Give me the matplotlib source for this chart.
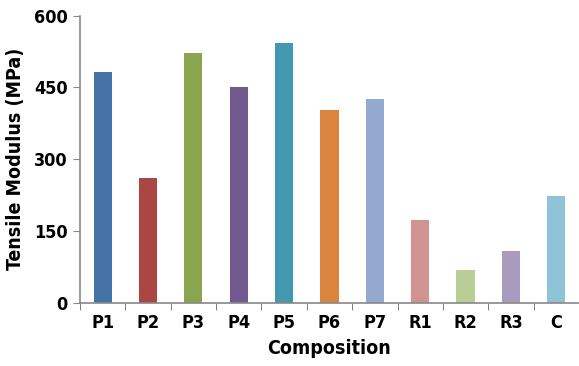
import matplotlib
matplotlib.use("Agg")
import matplotlib.pyplot as plt
from matplotlib.ticker import FixedLocator

categories = ["P1", "P2", "P3", "P4", "P5", "P6", "P7", "R1", "R2", "R3", "C"]
modulus = [482, 261, 522, 452, 543, 402, 426, 172, 69, 109, 223]
colors = ["#4572a7", "#aa4643", "#89a54e", "#71588f", "#4198af", "#db843d",
          "#93a9cf", "#d19392", "#b9cd96", "#a99bbd", "#8fc3d8"]
y_ticks = [0, 150, 300, 450, 600]

plt.rcParams['font.family'] = ['DejaVu Sans']
plt.rcParams['font.stretch'] = 'condensed'

fig = plt.figure(figsize=(5.79, 3.66), dpi=100)
ax = fig.add_axes([0.138, 0.173, 0.862, 0.784])

x = range(len(categories))
ax.bar(x, modulus, width=0.4, color=colors)

ax.set_xlim(-0.5, len(categories) - 0.5)
ax.set_ylim(0, 600)
ax.set_yticks(y_ticks)
ax.set_xticks(list(x))
ax.set_xticklabels(categories)
ax.xaxis.set_minor_locator(FixedLocator([i - 0.5 for i in range(len(categories))]))

for s in ["top", "right"]:
    ax.spines[s].set_visible(False)
for s in ["left", "bottom"]:
    ax.spines[s].set_color("#888888")
    ax.spines[s].set_linewidth(1.2)

ax.tick_params(axis="x", which="major", length=0, pad=8, labelsize=13)
ax.tick_params(axis="x", which="minor", length=5, color="#666666", direction="out")
ax.tick_params(axis="y", length=5, color="#888888", labelsize=13, pad=4)
for lbl in ax.get_xticklabels() + ax.get_yticklabels():
    lbl.set_fontweight("heavy")

ax.set_xlabel("Composition", fontsize=14, fontweight="heavy", labelpad=5)
ax.set_ylabel("Tensile Modulus (MPa)", fontsize=14, fontweight="heavy", labelpad=6)

fig.savefig("out.png", dpi=100)
